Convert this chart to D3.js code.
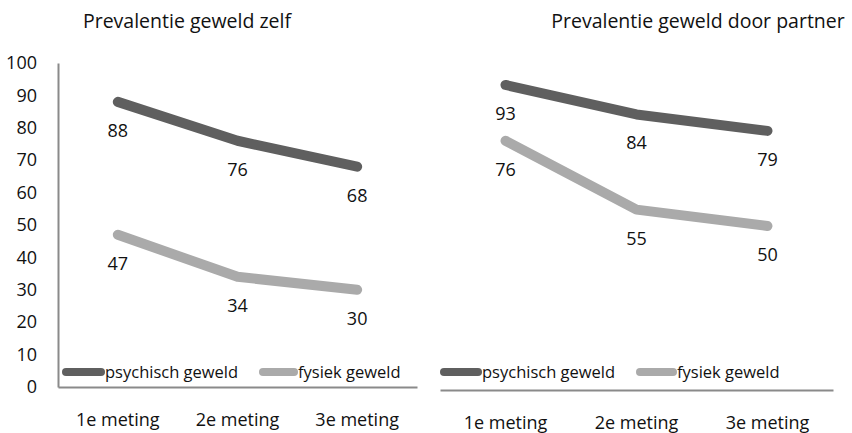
<!DOCTYPE html>
<html><head><meta charset="utf-8">
<script src="https://cdn.jsdelivr.net/npm/d3@7"></script>
<style>
body{margin:0;background:#fff;}
text{font-family:"Open Sans","Noto Sans",sans-serif;fill:#111;}
</style></head>
<body><svg id="c" width="852" height="433"></svg>
<script>
const categories = ["1e meting","2e meting","3e meting"];
const seriesNames = ["psychisch geweld","fysiek geweld"];
const zelfPsychisch = [88,76,68];
const zelfFysiek = [47,34,30];
const partnerPsychisch = [93,84,79];
const partnerFysiek = [76,55,50];
const yTicks = [0,10,20,30,40,50,60,70,80,90,100];
const titles = ["Prevalentie geweld zelf","Prevalentie geweld door partner"];

const colors = ["#5f5f5f","#aaaaaa"];
const svg = d3.select("#c");
const FS = 18;

const panels = [
  {title:titles[0], series:[zelfPsychisch, zelfFysiek], x0:58, x1:417, yTop:63, yBot:387, showY:true, titleX:187, legendY:372, leg:[[62,105],[259,298]]},
  {title:titles[1], series:[partnerPsychisch, partnerFysiek], x0:440, x1:833, yTop:62, yBot:390, showY:false, titleX:698, legendY:372, leg:[[440,482],[636,677]]}
];

panels.forEach(p => {
  const x = d3.scaleBand().domain(categories).range([p.x0, p.x1]).padding(0);
  const y = d3.scaleLinear().domain([0,100]).range([p.yBot, p.yTop]);
  const cx = c => x(c) + x.bandwidth()/2;

  // title
  svg.append("text").attr("x", p.titleX).attr("y", 28).attr("text-anchor","middle")
    .style("font-size","19.5px").text(p.title);

  // y axis
  if (p.showY) {
    const ya = svg.append("g").attr("transform",`translate(${p.x0},0)`)
      .call(d3.axisLeft(y).tickValues(yTicks).tickSize(0).tickPadding(21));
    ya.select(".domain").attr("stroke","#8a8a8a").attr("stroke-width",2);
    ya.selectAll("text").style("font-size", FS+"px").style("font-family",'"Open Sans",sans-serif').attr("fill","#111");
  }
  // x axis
  const xa = svg.append("g").attr("transform",`translate(0,${p.yBot})`)
    .call(d3.axisBottom(x).tickSize(0).tickPadding(26));
  xa.select(".domain").attr("stroke","#8a8a8a").attr("stroke-width",2);
  xa.selectAll("text").style("font-size", FS+"px").style("font-family",'"Open Sans",sans-serif').attr("fill","#111");

  // lines
  const line = d3.line().x((d,i)=>cx(categories[i])).y(d=>y(d));
  p.series.forEach((s,si) => {
    svg.append("path").datum(s).attr("d", line).attr("fill","none")
      .attr("stroke", colors[si]).attr("stroke-width",10)
      .attr("stroke-linecap","round").attr("stroke-linejoin","round");
    svg.selectAll(null).data(s).enter().append("text")
      .attr("x",(d,i)=>cx(categories[i])).attr("y", d=>y(d)+35)
      .attr("text-anchor","middle").style("font-size", FS+"px").text(d=>d);
  });

  // legend
  seriesNames.forEach((n,i) => {
    const [a,b] = p.leg[i];
    svg.append("line").attr("x1",a+4).attr("x2",b-4).attr("y1",p.legendY).attr("y2",p.legendY)
      .attr("stroke",colors[i]).attr("stroke-width",8).attr("stroke-linecap","round");
    svg.append("text").attr("x",b).attr("y",p.legendY+6).style("font-size","16.5px").text(n);
  });
});
</script></body></html>
